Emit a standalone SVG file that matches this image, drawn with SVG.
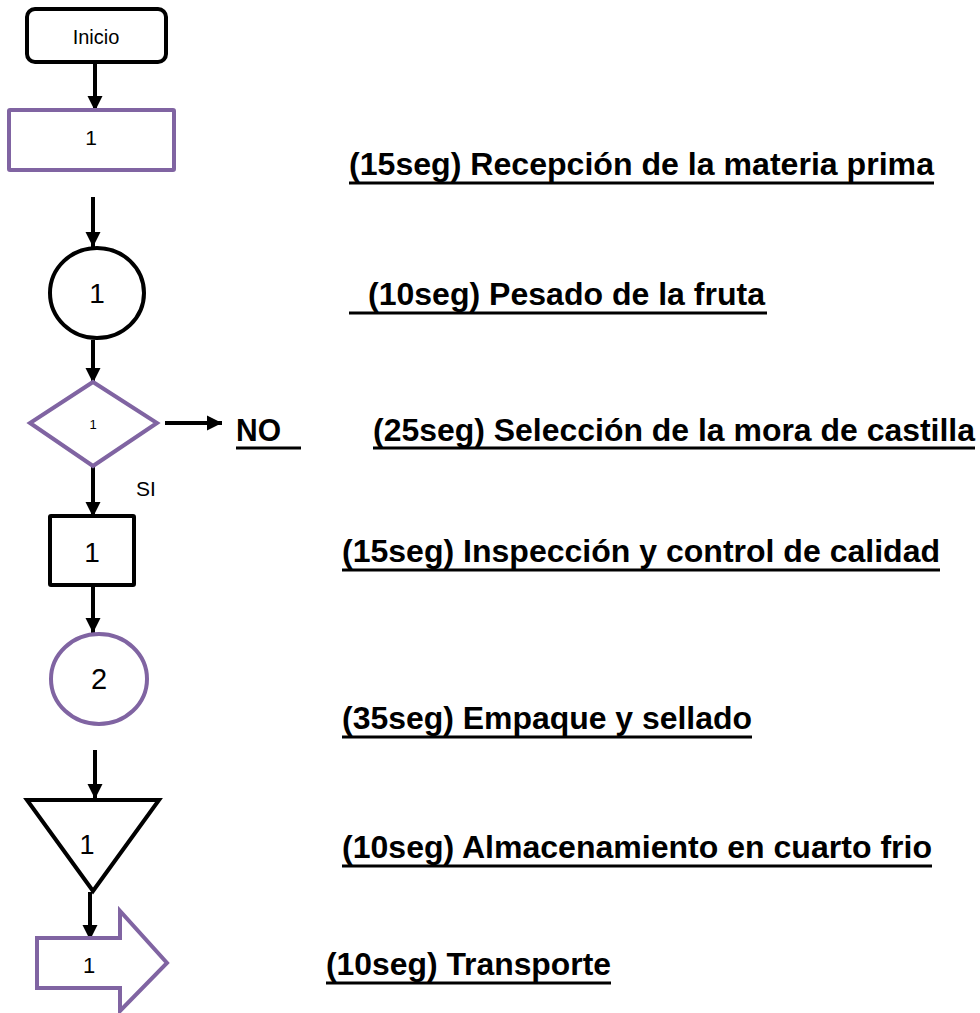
<svg xmlns="http://www.w3.org/2000/svg" width="980" height="1013" viewBox="0 0 980 1013">
  <style>
    .blk { fill: #ffffff; stroke: #000000; stroke-width: 4; }
    .pur { fill: #ffffff; stroke: #8064A2; stroke-width: 4; }
    .lbl { font-family: "Liberation Sans", Arial, sans-serif; fill: #000000; text-anchor: middle; }
    .step { font-family: "Liberation Sans", Arial, sans-serif; font-weight: bold; font-size: 31px; fill: #000000; }
    .ul { stroke: #000000; stroke-width: 3; }
    .conn { stroke: #000000; stroke-width: 4; fill: none; marker-end: url(#head); }
  </style>
  <defs>
    <marker id="head" markerUnits="userSpaceOnUse" markerWidth="18" markerHeight="18" refX="15" refY="9" orient="auto">
      <path d="M0,1.5 L15,9 L0,16.5 Z" fill="#000000"/>
    </marker>
  </defs>
  <rect width="980" height="1013" fill="#ffffff"/>

  <!-- connectors -->
  <g id="connectors">
    <line class="conn" x1="95" y1="62" x2="95" y2="111"/>
    <line class="conn" x1="93" y1="197" x2="93" y2="247"/>
    <line class="conn" x1="93" y1="340" x2="93" y2="383"/>
    <line class="conn" x1="165" y1="423" x2="222" y2="423"/>
    <line class="conn" x1="93" y1="466" x2="93" y2="517"/>
    <line class="conn" x1="93" y1="585" x2="93" y2="633"/>
    <line class="conn" x1="95" y1="750" x2="95" y2="799"/>
    <line class="conn" x1="90" y1="892" x2="90" y2="940"/>
  </g>

  <!-- flow symbols -->
  <g id="inicio">
    <rect class="blk" x="27" y="9" width="139" height="53" rx="8"/>
    <text class="lbl" x="96" y="44" font-size="20">Inicio</text>
  </g>
  <g id="operacion-1">
    <rect class="pur" x="9" y="110" width="165" height="60" rx="1"/>
    <text class="lbl" x="91" y="145" font-size="21">1</text>
  </g>
  <g id="operacion-circulo-1">
    <ellipse class="blk" cx="97" cy="293" rx="47" ry="45"/>
    <text class="lbl" x="97" y="303" font-size="28">1</text>
  </g>
  <g id="decision-1">
    <polygon class="pur" points="93,382 157,423 93,466 30,423"/>
    <text class="lbl" x="93" y="429" font-size="13">1</text>
  </g>
  <g id="rama-no">
    <text class="step" x="236" y="441" font-size="29" textLength="45" lengthAdjust="spacingAndGlyphs">NO</text>
    <line class="ul" x1="236" y1="448" x2="301" y2="448"/>
  </g>
  <g id="rama-si">
    <text class="lbl" x="146" y="496" font-size="21">SI</text>
  </g>
  <g id="inspeccion-1">
    <rect class="blk" x="50" y="516" width="84" height="69" rx="1"/>
    <text class="lbl" x="92" y="562" font-size="28">1</text>
  </g>
  <g id="operacion-circulo-2">
    <ellipse class="pur" cx="99" cy="679" rx="48" ry="45"/>
    <text class="lbl" x="99" y="689" font-size="29">2</text>
  </g>
  <g id="almacenamiento-1">
    <polygon class="blk" points="27,800 159,800 93,891"/>
    <text class="lbl" x="87" y="854" font-size="27">1</text>
  </g>
  <g id="transporte-1">
    <polygon class="pur" points="37,938 120,938 120,911 167,963 120,1011 120,988 37,988"/>
    <text class="lbl" x="89" y="973" font-size="22">1</text>
  </g>

  <!-- step descriptions -->
  <g id="textos">
    <text class="step" x="349" y="175" textLength="585" lengthAdjust="spacingAndGlyphs">(15seg) Recepción de la materia prima</text>
    <line class="ul" x1="349" y1="183" x2="934" y2="183"/>

    <text class="step" x="368" y="305" textLength="397" lengthAdjust="spacingAndGlyphs">(10seg) Pesado de la fruta</text>
    <line class="ul" x1="349" y1="313" x2="767" y2="313"/>

    <text class="step" x="373" y="441" textLength="602" lengthAdjust="spacingAndGlyphs">(25seg) Selección de la mora de castilla</text>
    <line class="ul" x1="373" y1="448" x2="975" y2="448"/>

    <text class="step" x="342" y="562" textLength="598" lengthAdjust="spacingAndGlyphs">(15seg) Inspección y control de calidad</text>
    <line class="ul" x1="342" y1="570" x2="940" y2="570"/>

    <text class="step" x="342" y="729" textLength="410" lengthAdjust="spacingAndGlyphs">(35seg) Empaque y sellado</text>
    <line class="ul" x1="342" y1="737" x2="752" y2="737"/>

    <text class="step" x="342" y="858" textLength="590" lengthAdjust="spacingAndGlyphs">(10seg) Almacenamiento en cuarto frio</text>
    <line class="ul" x1="342" y1="866" x2="932" y2="866"/>

    <text class="step" x="326" y="975" textLength="285" lengthAdjust="spacingAndGlyphs">(10seg) Transporte</text>
    <line class="ul" x1="326" y1="983" x2="611" y2="983"/>
  </g>
</svg>
